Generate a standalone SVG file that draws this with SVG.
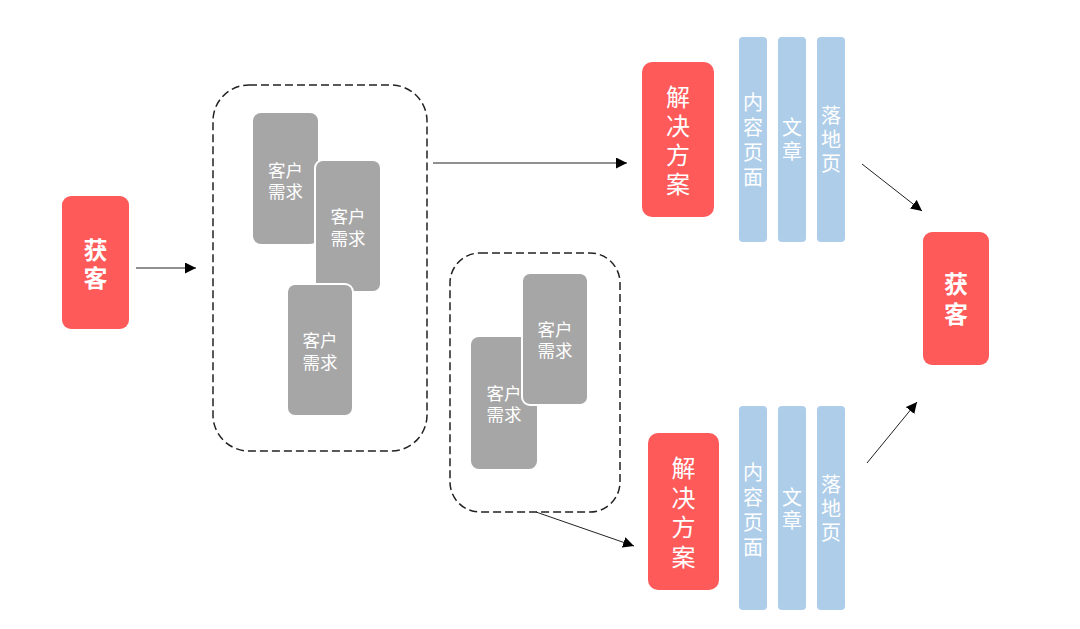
<svg xmlns="http://www.w3.org/2000/svg" width="1080" height="629" viewBox="0 0 1080 629">
<defs>
<marker id="ah" viewBox="0 0 10 10" refX="10" refY="5" markerWidth="11" markerHeight="11" markerUnits="userSpaceOnUse" orient="auto">
<path d="M0,0 L10,5 L0,10 z" fill="#000"/>
</marker>
<style>
.red{fill:#fe5a5a}
.gray{fill:#a6a6a6}
.grayw{fill:#a6a6a6;stroke:#fff;stroke-width:2}
.blue{fill:#aecde9}
.dash{fill:none;stroke:#222;stroke-width:1.5;stroke-dasharray:8 4}
.t{font-family:"Noto Sans CJK SC","Noto Sans",sans-serif;fill:#fff;text-anchor:middle;dominant-baseline:central}
.v{writing-mode:vertical-rl;text-orientation:upright}
.tb{font-size:24px;font-weight:bold}
.tr{font-size:24px;letter-spacing:5px}
.tg{font-family:"Liberation Sans","Noto Sans CJK SC",sans-serif;font-size:17.5px}
.tbl{font-size:20px}
.ln{stroke:#222;stroke-width:1;fill:none}
</style>
</defs>
<rect width="1080" height="629" fill="#fff"/>

<g id="huoke-left">
<rect class="red" x="62" y="196" width="67" height="133" rx="9"/>
<text class="t v tb" x="95.5" y="266" style="letter-spacing:4px">获客</text>
</g>

<g id="group1">
<rect class="dash" x="213" y="85" width="214" height="366" rx="36"/>
</g>
<g id="card1">
<rect class="gray" x="253" y="113" width="65" height="131" rx="8"/>
<text class="t tg" x="285.5" y="171">客户<tspan x="285.5" dy="21">需求</tspan></text>
</g>
<g id="card2">
<rect class="grayw" x="315" y="160" width="66" height="132" rx="8"/>
<text class="t tg" x="348" y="217">客户<tspan x="348" dy="22">需求</tspan></text>
</g>
<g id="card3">
<rect class="grayw" x="287" y="284" width="66" height="132" rx="8"/>
<text class="t tg" x="320" y="341">客户<tspan x="320" dy="22">需求</tspan></text>
</g>

<g id="group2">
<rect class="dash" x="450" y="253" width="170" height="259" rx="30"/>
</g>
<g id="card4">
<rect class="gray" x="471" y="337" width="66" height="132" rx="8"/>
<text class="t tg" x="504" y="394">客户<tspan x="504" dy="21">需求</tspan></text>
</g>
<g id="card5">
<rect class="grayw" x="522" y="273" width="66" height="132" rx="8"/>
<text class="t tg" x="555" y="330">客户<tspan x="555" dy="21">需求</tspan></text>
</g>

<g id="solution-top">
<rect class="red" x="642" y="62" width="72" height="155" rx="10"/>
<text class="t v tr" x="678" y="143">解决方案</text>
</g>
<g id="content-top">
<rect class="blue" x="739" y="37" width="28" height="205" rx="4"/>
<text class="t v tbl" x="753" y="142" style="letter-spacing:5px">内容页面</text>
</g>
<g id="article-top">
<rect class="blue" x="778" y="37" width="28" height="205" rx="4"/>
<text class="t v tbl" x="792" y="141" style="letter-spacing:4px">文章</text>
</g>
<g id="landing-top">
<rect class="blue" x="817" y="37" width="28" height="205" rx="4"/>
<text class="t v tbl" x="831" y="141" style="letter-spacing:4px">落地页</text>
</g>

<g id="solution-bottom">
<rect class="red" x="648" y="433" width="71" height="157" rx="10"/>
<text class="t v tr" x="683.5" y="515" style="letter-spacing:5.5px">解决方案</text>
</g>
<g id="content-bottom">
<rect class="blue" x="739" y="406" width="28" height="204" rx="4"/>
<text class="t v tbl" x="753" y="512" style="letter-spacing:5px">内容页面</text>
</g>
<g id="article-bottom">
<rect class="blue" x="778" y="406" width="28" height="204" rx="4"/>
<text class="t v tbl" x="792" y="510" style="letter-spacing:3px">文章</text>
</g>
<g id="landing-bottom">
<rect class="blue" x="817" y="406" width="28" height="204" rx="4"/>
<text class="t v tbl" x="831" y="510" style="letter-spacing:4px">落地页</text>
</g>

<g id="huoke-right">
<rect class="red" x="923" y="232" width="66" height="133" rx="9"/>
<text class="t v tb" x="956" y="302" style="letter-spacing:6px">获客</text>
</g>

<g id="connectors">
<line class="ln" x1="136" y1="268" x2="196" y2="268" marker-end="url(#ah)"/>
<line class="ln" x1="433" y1="163" x2="627" y2="163" marker-end="url(#ah)"/>
<line class="ln" x1="536" y1="512" x2="634" y2="546" marker-end="url(#ah)"/>
<line class="ln" x1="862" y1="164" x2="922" y2="211" marker-end="url(#ah)"/>
<line class="ln" x1="867" y1="463" x2="917" y2="402" marker-end="url(#ah)"/>
</g>
</svg>
